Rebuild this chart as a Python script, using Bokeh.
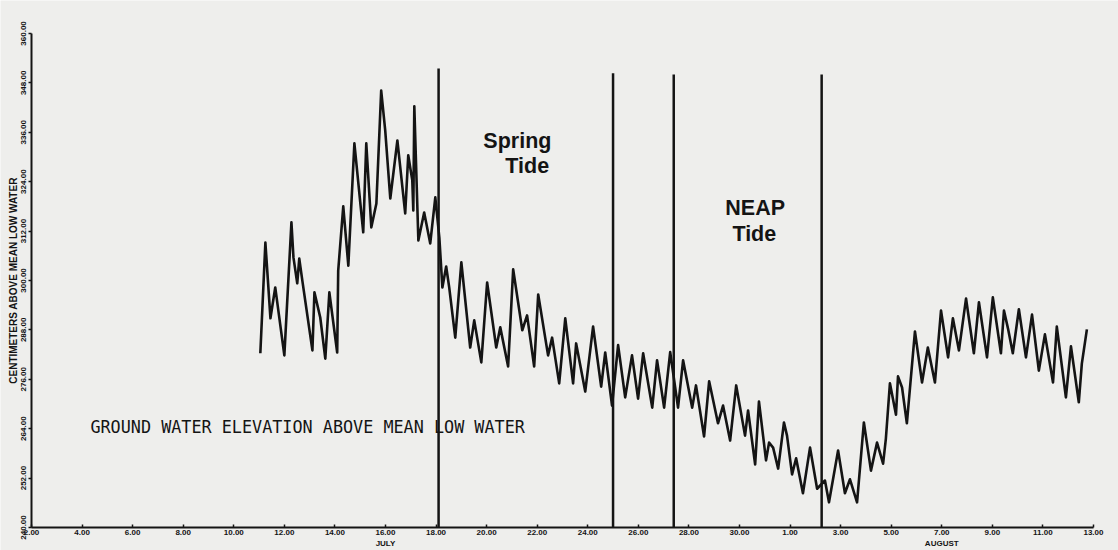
from bokeh.plotting import figure
from bokeh.models import FixedTicker, Range1d, PrintfTickFormatter
from bokeh.core.properties import value
from bokeh.embed import file_html
from bokeh.resources import INLINE

# x = day counted from 1 July (1 August = 32)
day = [11.05, 11.25, 11.45, 11.64, 12.00, 12.28, 12.36, 12.51, 12.59, 12.71,
       13.11, 13.19, 13.42, 13.62, 13.78, 14.09, 14.13, 14.33, 14.53, 14.77,
       15.12, 15.24, 15.44, 15.64, 15.83, 15.99, 16.19, 16.47, 16.78, 16.90,
       17.06, 17.10, 17.14, 17.30, 17.53, 17.77, 17.97, 18.13, 18.25, 18.40,
       18.52, 18.76, 19.00, 19.35, 19.51, 19.79, 20.02, 20.38, 20.54, 20.85,
       21.05, 21.41, 21.60, 21.88, 22.04, 22.43, 22.59, 22.87, 23.11, 23.42,
       23.54, 23.90, 24.21, 24.53, 24.69, 24.96, 25.20, 25.48, 25.75, 25.99,
       26.19, 26.55, 26.74, 27.02, 27.26, 27.57, 27.77, 28.13, 28.28, 28.60,
       28.80, 29.15, 29.35, 29.63, 29.87, 30.22, 30.34, 30.62, 30.77, 31.05,
       31.17, 31.33, 31.53, 31.76, 31.88, 32.08, 32.24, 32.51, 32.79, 33.07,
       33.38, 33.54, 33.90, 34.17, 34.37, 34.65, 34.92, 35.20, 35.44, 35.68,
       35.79, 35.95, 36.19, 36.27, 36.43, 36.62, 36.94, 37.22, 37.45, 37.73,
       37.97, 38.25, 38.44, 38.68, 38.96, 39.27, 39.47, 39.79, 40.02, 40.34,
       40.46, 40.62, 40.81, 41.05, 41.33, 41.57, 41.84, 42.08, 42.40, 42.55,
       42.91, 43.11, 43.42, 43.54, 43.74]
elevation = [282.3, 309.2, 290.8, 298.3, 281.8, 314.1, 305.6, 299.3, 305.3, 300.0,
             283.0, 297.1, 291.0, 281.0, 297.1, 282.5, 302.4, 318.0, 303.6, 333.3,
             311.7, 333.3, 312.9, 318.7, 346.1, 336.4, 319.9, 334.0, 316.3, 330.4,
             324.3, 317.0, 342.3, 309.7, 316.5, 309.0, 320.2, 310.4, 298.3, 303.4,
             298.3, 286.1, 304.4, 283.7, 290.3, 280.1, 299.5, 283.7, 288.6, 279.1,
             302.7, 287.9, 291.5, 279.1, 296.6, 281.8, 286.1, 275.0, 290.8, 275.0,
             284.7, 273.0, 288.8, 274.2, 282.5, 269.6, 284.3, 271.6, 281.8, 271.3,
             282.3, 269.1, 280.6, 269.1, 282.6, 269.1, 280.6, 269.1, 274.5, 262.1,
             275.5, 265.3, 269.6, 261.1, 274.5, 262.3, 268.4, 255.3, 270.6, 256.3,
             260.6, 259.4, 254.3, 265.5, 262.3, 252.9, 256.8, 248.3, 259.4, 249.4,
             251.4, 246.1, 258.7, 248.3, 251.7, 246.1, 265.5, 253.8, 260.6, 255.5,
             261.6, 275.0, 267.4, 276.7, 274.0, 265.3, 287.6, 275.2, 283.7, 275.2,
             292.7, 281.3, 290.8, 283.0, 295.6, 282.3, 294.7, 281.3, 295.9, 282.3,
             292.7, 288.3, 282.3, 293.0, 281.3, 291.7, 278.1, 286.9, 275.2, 288.8,
             271.6, 284.0, 270.4, 279.8, 288.1]

x_ticks = [2, 4, 6, 8, 10, 12, 14, 16, 18, 20, 22, 24, 26, 28, 30,
           32, 34, 36, 38, 40, 42, 44]
x_tick_labels = ["2.00", "4.00", "6.00", "8.00", "10.00", "12.00", "14.00",
                 "16.00\nJULY", "18.00", "20.00", "22.00", "24.00", "26.00",
                 "28.00", "30.00", "1.00", "3.00", "5.00", "7.00\nAUGUST",
                 "9.00", "11.00", "13.00"]
y_ticks = [240, 252, 264, 276, 288, 300, 312, 324, 336, 348, 360]

tide_days = [18.1, 25.0, 27.4, 33.25]
tide_tops = [351.5, 350.3, 350.0, 350.0]

notes = ["Spring", "Tide", "NEAP", "Tide"]
note_x = [19.87, 20.74, 29.44, 29.72]
note_y = [333.8, 327.7, 317.5, 311.4]

caption = "GROUND WATER ELEVATION ABOVE MEAN LOW WATER"
y_title = "CENTIMETERS ABOVE MEAN LOW WATER"

bg = "#eeeeec"
ink = "#141414"

p = figure(width=1118, height=550, x_range=Range1d(0.774, 44.99), y_range=Range1d(234.4, 368.0),
           output_backend="svg", toolbar_location=None,
           background_fill_color=bg, border_fill_color=bg,
           min_border_left=0, min_border_right=0, min_border_top=0, min_border_bottom=0)
p.outline_line_color = None
p.grid.visible = False

p.xaxis.fixed_location = 240
p.xaxis.bounds = (2, 44)
p.xaxis.ticker = FixedTicker(ticks=x_ticks)
p.xaxis.major_label_overrides = {t: s for t, s in zip(x_ticks, x_tick_labels)}
p.yaxis.fixed_location = 2
p.yaxis.bounds = (240, 360)
p.yaxis.ticker = FixedTicker(ticks=y_ticks)
p.yaxis.formatter = PrintfTickFormatter(format="%.2f")
p.yaxis.major_label_orientation = "vertical"
p.yaxis.axis_label = y_title

for ax in (p.xaxis[0], p.yaxis[0]):
    ax.axis_line_color = ink
    ax.axis_line_width = 2
    ax.major_tick_line_color = ink
    ax.major_tick_line_width = 1.5
    ax.minor_tick_line_color = None
    ax.major_label_text_font = "Liberation Sans"
    ax.major_label_text_font_style = "bold"
    ax.major_label_text_font_size = "8px"
    ax.major_label_text_color = ink
    ax.major_label_standoff = 2

p.xaxis.major_tick_in = 3
p.xaxis.major_tick_out = 0
p.xaxis.major_label_standoff = 1
p.yaxis.major_tick_in = 0
p.yaxis.major_tick_out = 3
p.yaxis.axis_label_text_font = "Liberation Sans"
p.yaxis.axis_label_text_font_style = "bold"
p.yaxis.axis_label_text_font_size = "10px"
p.yaxis.axis_label_text_color = ink
p.yaxis.axis_label_standoff = 0

p.segment(x0=tide_days, y0=[240] * len(tide_days), x1=tide_days, y1=tide_tops,
          line_color=ink, line_width=2.5)

p.line(day, elevation, line_color=ink, line_width=2.6, line_join="round")

p.text(x=note_x, y=note_y, text=notes, text_font=value("Liberation Sans"),
       text_font_style="bold", text_font_size="21.5px", text_color=ink,
       text_align="left", text_baseline="alphabetic")

p.text(x=[4.33], y=[264.3], text=[caption], text_font=value("DejaVu Sans Mono"),
       text_font_size="16.8px", text_color=ink, text_align="left",
       text_baseline="alphabetic")

open("out.html", "w").write(file_html(p, INLINE))
